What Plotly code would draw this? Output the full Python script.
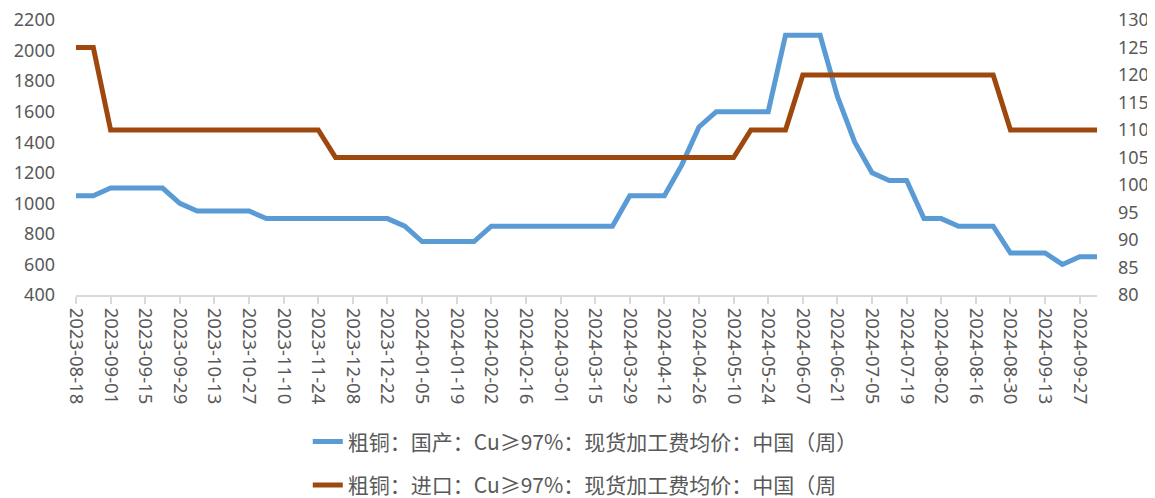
import plotly.graph_objects as go
import datetime as dt

start = dt.date(2023, 8, 18)
dates = [(start + dt.timedelta(weeks=i)).isoformat() for i in range(60)]

domestic = [1050, 1050, 1100, 1100, 1100, 1100, 1000, 950, 950, 950,
            950, 900, 900, 900, 900, 900, 900, 900, 900, 850,
            750, 750, 750, 750, 850, 850, 850, 850, 850, 850,
            850, 850, 1050, 1050, 1050, 1250, 1500, 1600, 1600, 1600,
            1600, 2100, 2100, 2100, 1700, 1400, 1200, 1150, 1150, 900,
            900, 850, 850, 850, 675, 675, 675, 600, 650, 650]

imported = [125, 125, 110, 110, 110, 110, 110, 110, 110, 110,
            110, 110, 110, 110, 110, 105, 105, 105, 105, 105,
            105, 105, 105, 105, 105, 105, 105, 105, 105, 105,
            105, 105, 105, 105, 105, 105, 105, 105, 105, 110,
            110, 110, 120, 120, 120, 120, 120, 120, 120, 120,
            120, 120, 120, 120, 110, 110, 110, 110, 110, 110]

name_dom = "粗铜：国产：Cu≥97%：现货加工费均价：中国（周）"
name_imp = "粗铜：进口：Cu≥97%：现货加工费均价：中国（周"

tick_labels = dates[::2]

GRAY = "#595959"
FONT = "Noto Sans, Noto Sans CJK SC, sans-serif"

fig = go.Figure()
fig.add_trace(go.Scatter(x=dates, y=domestic, mode="lines", name=name_dom,
                         line=dict(color="#5B9BD5", width=5), yaxis="y", legend="legend"))
fig.add_trace(go.Scatter(x=dates, y=imported, mode="lines", name=name_imp,
                         line=dict(color="#9E480E", width=5), yaxis="y2", legend="legend2"))

legend_common = dict(font=dict(family="Noto Sans CJK SC", size=21, color=GRAY),
                     bgcolor="rgba(0,0,0,0)", xanchor="left", yanchor="middle",
                     orientation="h")

fig.update_layout(
    width=1147, height=490,
    margin=dict(l=68, r=58, t=12, b=203, autoexpand=False),
    paper_bgcolor="white", plot_bgcolor="white",
    font=dict(family=FONT, color=GRAY, size=18),
    xaxis=dict(type="category", range=[0, 59], tickmode="array",
               tickvals=tick_labels, ticktext=tick_labels, tickangle=90,
               showline=True, linecolor="#D9D9D9", linewidth=2,
               ticks="outside", ticklen=7, tickcolor="#D9D9D9", tickwidth=2,
               showgrid=False, zeroline=False, automargin=False,
               tickfont=dict(family=FONT, size=18.5, color=GRAY)),
    yaxis=dict(range=[400, 2200], dtick=200, showgrid=False, zeroline=False,
               showline=False, ticks="", ticklabelstandoff=20, automargin=False,
               ticklabeloverflow="allow",
               tickfont=dict(family=FONT, size=18, color=GRAY)),
    yaxis2=dict(range=[80, 130], dtick=5, overlaying="y", side="right",
                showgrid=False, zeroline=False, showline=False, ticks="",
                ticklabelstandoff=20, automargin=False,
                ticklabeloverflow="allow",
                tickfont=dict(family=FONT, size=18, color=GRAY)),
    legend=dict(x=0.227, y=-0.534, **legend_common),
    legend2=dict(x=0.227, y=-0.692, **legend_common),
    showlegend=True,
)

fig.write_html("out.html")
